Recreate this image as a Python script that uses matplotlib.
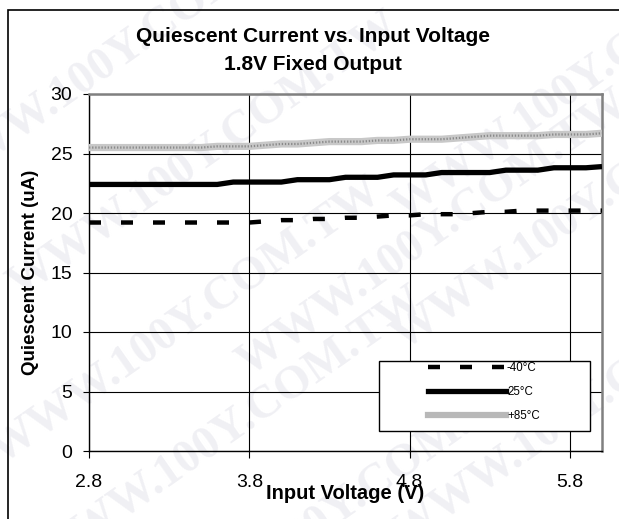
import matplotlib
matplotlib.use("Agg")
import matplotlib.pyplot as plt
from matplotlib.patches import Rectangle
from matplotlib.lines import Line2D

plt.rcParams['font.family'] = ['Liberation Sans', 'DejaVu Sans']

# data
volts = [2.8, 2.9, 3.0, 3.1, 3.2, 3.3, 3.4, 3.5, 3.6, 3.7, 3.8, 3.9, 4.0, 4.1, 4.2, 4.3, 4.4,
         4.5, 4.6, 4.7, 4.8, 4.9, 5.0, 5.1, 5.2, 5.3, 5.4, 5.5, 5.6, 5.7, 5.8, 5.9, 6.0]
cur_m40 = [19.2, 19.2, 19.2, 19.2, 19.2, 19.2, 19.2, 19.2, 19.2, 19.2, 19.2, 19.3, 19.4, 19.4,
           19.5, 19.5, 19.6, 19.6, 19.7, 19.8, 19.8, 19.9, 19.9, 19.9, 20.0, 20.1, 20.1, 20.2,
           20.2, 20.2, 20.2, 20.2, 20.2]
cur_25 = [22.4, 22.4, 22.4, 22.4, 22.4, 22.4, 22.4, 22.4, 22.4, 22.6, 22.6, 22.6, 22.6, 22.8,
          22.8, 22.8, 23.0, 23.0, 23.0, 23.2, 23.2, 23.2, 23.4, 23.4, 23.4, 23.4, 23.6, 23.6,
          23.6, 23.8, 23.8, 23.8, 23.9]
cur_85 = [25.5, 25.5, 25.5, 25.5, 25.5, 25.5, 25.5, 25.5, 25.6, 25.6, 25.6, 25.7, 25.8, 25.8,
          25.9, 26.0, 26.0, 26.0, 26.1, 26.1, 26.2, 26.2, 26.2, 26.3, 26.4, 26.5, 26.5, 26.5,
          26.5, 26.6, 26.6, 26.6, 26.7]
labels = ['-40°C', '25°C', '+85°C']
xticks = [2.8, 3.8, 4.8, 5.8]
yticks = [0, 5, 10, 15, 20, 25, 30]

fig = plt.figure(figsize=(6.19, 5.19), dpi=100)
fig.patch.set_facecolor('white')

# faint watermark behind everything
wm_pos = [(0.20, 0.90), (0.33, 0.70), (0.30, 0.38), (0.37, 0.17), (0.55, 0.02),
          (0.95, 0.85), (0.95, 0.60), (0.95, 0.22), (0.70, 0.55)]
for wx, wy in wm_pos:
    fig.text(wx, wy, 'WWW.100Y.COM.TW', fontsize=34, family='Liberation Serif',
             fontweight='bold', color='#f0f0f4', rotation=35, ha='center', va='center',
             zorder=-10)

# outer frame
fig.add_artist(Rectangle((7.5 / 619, -0.1), 1.2, 1 - 9.5 / 519 + 0.1, transform=fig.transFigure,
                         fill=False, edgecolor='black', lw=1.2, zorder=-5))

ax = fig.add_axes([89 / 619, 1 - 451 / 519, 513 / 619, 357 / 519])
ax.patch.set_visible(False)

ax.plot(volts, cur_m40, color='black', lw=3.2, dashes=(2.7, 4.5), solid_capstyle='butt',
        dash_capstyle='butt', zorder=3)
ax.plot(volts, cur_25, color='black', lw=3.8, solid_capstyle='butt', zorder=3)
ax.plot(volts, cur_85, color='#c8c8c8', lw=5.2, solid_capstyle='butt', zorder=3)
ax.plot(volts, cur_85, color='#8a8a8a', lw=1.6, dashes=(0.6, 0.8), zorder=3)

ax.set_xlim(2.8, 6.0)
ax.set_ylim(0, 30)
ax.set_xticks(xticks)
ax.set_yticks(yticks)
ax.set_xticklabels([f'{v:.1f}' for v in xticks])
ax.grid(True, color='black', lw=0.8)
ax.set_axisbelow(True)
ax.tick_params(axis='y', direction='out', length=4, width=0.8, pad=8, labelsize=14)
ax.tick_params(axis='x', direction='out', length=5, width=0.8, pad=11.5, labelsize=14)
for s in ['top', 'right']:
    ax.spines[s].set_color('#808080')
    ax.spines[s].set_linewidth(1.8)
ax.spines['left'].set_linewidth(1.0)
ax.spines['bottom'].set_linewidth(1.0)

ax.set_xlabel('Input Voltage (V)', fontsize=14.5, fontweight='bold', labelpad=-5)
ax.set_ylabel('Quiescent Current (uA)', fontsize=13.5, fontweight='bold', labelpad=8)
fig.text(313 / 619, 1 - 36 / 519, 'Quiescent Current vs. Input Voltage', fontsize=15,
         fontweight='bold', ha='center', va='center')
fig.text(313 / 619, 1 - 65 / 519, '1.8V Fixed Output', fontsize=15,
         fontweight='bold', ha='center', va='center')

# legend box and entries
ax.add_patch(Rectangle(((379 - 89) / 513, (451 - 431) / 357), 211 / 513, 70 / 357,
                       transform=ax.transAxes, facecolor='white', edgecolor='black',
                       lw=1.0, zorder=4))
handles = [Line2D([], [], color='black', lw=3.2, dashes=(2.7, 4.5), dash_capstyle='butt'),
           Line2D([], [], color='black', lw=3.8),
           Line2D([], [], color='#b8b8b8', lw=4.5)]
leg = ax.legend(handles, labels, loc='upper left', bbox_to_anchor=((428 - 89) / 513, (451 - 362) / 357),
                frameon=False, fontsize=8.3, handlelength=6.8, handletextpad=0.05,
                labelspacing=1.05, borderpad=0, borderaxespad=0)
leg.set_zorder(5)

fig.savefig('out.png', dpi=100)
